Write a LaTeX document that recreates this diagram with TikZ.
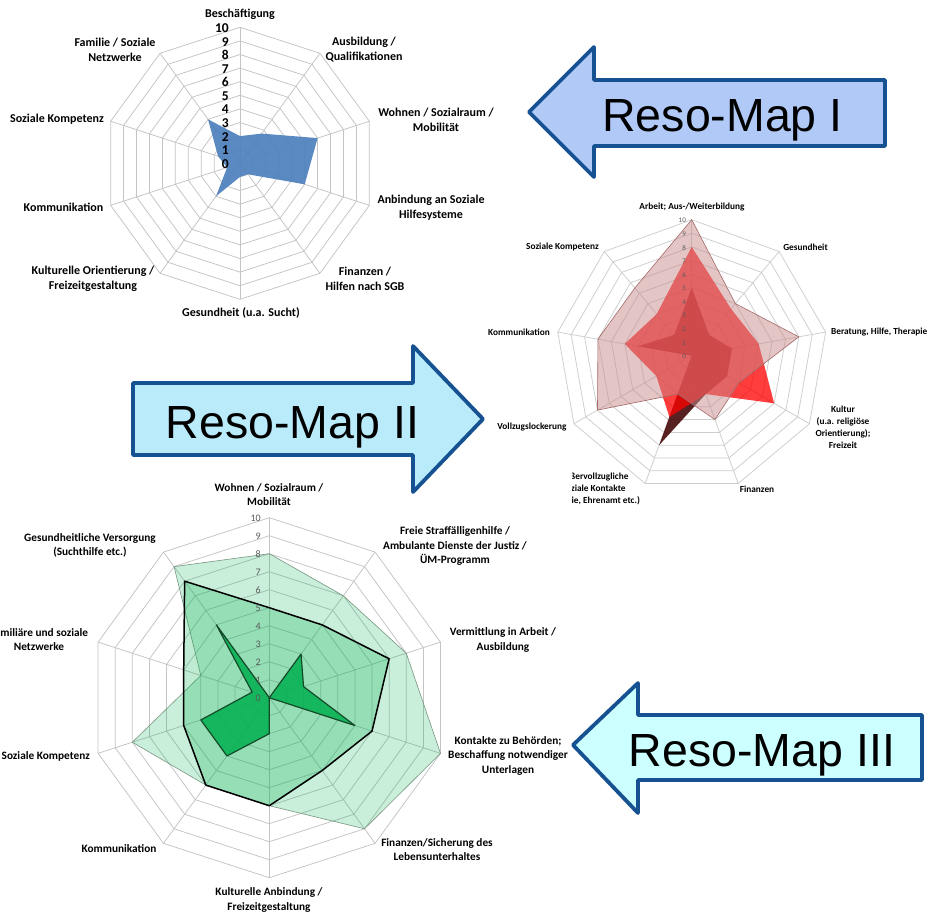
\documentclass[tikz,border=0pt]{standalone}
\usepackage{fontspec}
\setmainfont{Carlito}
\newfontfamily\arialfont{Liberation Sans}
\definecolor{gridgray}{RGB}{196,196,196}
\definecolor{numgray}{RGB}{90,90,90}
\definecolor{xlblue}{RGB}{79,129,189}
\definecolor{arrowedge}{RGB}{22,82,145}
\definecolor{fillI}{RGB}{177,201,247}
\definecolor{fillII}{RGB}{185,235,250}
\definecolor{fillIII}{RGB}{204,255,255}
\definecolor{redA}{RGB}{200,140,140}
\definecolor{redAline}{RGB}{165,105,105}
\definecolor{redC}{RGB}{70,10,10}
\definecolor{xlgreen}{RGB}{0,176,80}
\definecolor{greenline}{RGB}{120,150,130}
\definecolor{greenC}{RGB}{20,75,40}
\begin{document}
\begin{tikzpicture}[x=1pt,y=-1pt,
  gridline/.style={draw=gridgray,line width=0.75pt},
  bigarrow/.style={draw=arrowedge,line width=3.8pt,line join=round},
  arrowtext/.style={font=\arialfont\fontsize{46.5}{50}\selectfont,anchor=base,inner sep=0pt},
  lblI/.style={font=\bfseries\fontsize{12}{15}\selectfont,align=center,inner sep=0pt},
  lblII/.style={font=\bfseries\fontsize{9.3}{12}\selectfont,align=center,inner sep=0pt},
  lblIII/.style={font=\bfseries\fontsize{11.3}{14.5}\selectfont,align=center,inner sep=0pt},
  numI/.style={font=\bfseries\fontsize{13.5}{14}\selectfont,anchor=east,inner sep=0pt},
  numII/.style={font=\fontsize{7}{8}\selectfont,text=numgray,anchor=east,inner sep=0pt},
  numIII/.style={font=\fontsize{10}{11}\selectfont,text=numgray,anchor=east,inner sep=0pt}]
\useasboundingbox (0,0) rectangle (929,914);
\fill[white] (0,0) rectangle (929,914);

% ================= Chart I =================
\begin{scope}[shift={(240,163.3)},scale=13.6]
  \foreach \k in {1,...,10}
    \draw[gridline] (-90:\k) -- (-54:\k) -- (-18:\k) -- (18:\k) -- (54:\k) -- (90:\k) -- (126:\k) -- (162:\k) -- (198:\k) -- (234:\k) -- cycle;
  \foreach \a in {-90,-54,-18,18,54,90,126,162,198,234}
    \draw[gridline] (0,0) -- (\a:10);
  \fill[xlblue,opacity=0.93] (-90:2) -- (-54:2.7) -- (-18:6) -- (18:5) -- (54:1) -- (90:1) -- (126:3) -- (162:1) -- (198:1.7) -- (234:4) -- cycle;
\end{scope}
\foreach \k in {0,...,10}
  \node[numI] (nI\k) at (229,{164-13.6*\k}) {\k};
\node[lblI] (besch) at (240,14) {Beschäftigung};
\node[lblI] (ausb) at (364,49.5) {Ausbildung /\\Qualifikationen};
\node[lblI] (wohn) at (436,119.5) {Wohnen / Sozialraum /\\Mobilität};
\node[lblI] (anb) at (431,207.5) {Anbindung an Soziale\\Hilfesysteme};
\node[lblI] (finI) at (365,278.5) {Finanzen /\\Hilfen nach SGB};
\node[lblI] (gesI) at (241,313) {Gesundheit (u.a. Sucht)};
\node[lblI] (kultI) at (93,278.5) {Kulturelle Orientierung /\\Freizeitgestaltung};
\node[lblI] (kommI) at (63.5,207) {Kommunikation};
\node[lblI] (sozI) at (57,119) {Soziale Kompetenz};
\node[lblI] (famI) at (115,49.5) {Familie / Soziale\\Netzwerke};

% ================= Chart II =================
\begin{scope}[shift={(691.7,355.7)},scale=13.6]
  \foreach \k in {1,...,10}
    \draw[gridline,draw=gridgray!85] (-90:\k) -- (-50:\k) -- (-10:\k) -- (30:\k) -- (70:\k) -- (110:\k) -- (150:\k) -- (190:\k) -- (230:\k) -- cycle;
  \foreach \a in {-90,-50,-10,30,70,110,150,190,230}
    \draw[gridline,draw=gridgray!85] (0,0) -- (\a:10);
  \fill[redC,opacity=0.9] (-90:5) -- (-50:2) -- (-10:3) -- (30:3) -- (70:3) -- (110:7) -- (150:0) -- (190:4) -- (230:2) -- cycle;
  \fill[red,opacity=0.76] (-90:8) -- (-50:4.5) -- (-10:5) -- (30:7) -- (70:3) -- (110:4.8) -- (150:3) -- (190:5) -- (230:4) -- cycle;
  \fill[redA,opacity=0.5] (-90:10) -- (-50:5) -- (-10:8) -- (30:4) -- (70:5) -- (110:3) -- (150:8) -- (190:7) -- (230:6.5) -- cycle;
  \draw[redAline,line width=0.6pt] (-90:10) -- (-50:5) -- (-10:8) -- (30:4) -- (70:5) -- (110:3) -- (150:8) -- (190:7) -- (230:6.5) -- cycle;
\end{scope}
\foreach \k in {0,...,10}
  \node[numII] (nII\k) at (686,{356.5-13.6*\k}) {\k};
\node[lblII] (arb) at (692,207) {Arbeit; Aus-/Weiterbildung};
\node[lblII] (gesII) at (805.5,247) {Gesundheit};
\node[lblII,anchor=west] (ber) at (831,332) {Beratung, Hilfe, Therapie};
\node[lblII] (kulII) at (843,427) {Kultur\\(u.a. religiöse\\Orientierung);\\Freizeit};
\node[lblII] (finII) at (757,489) {Finanzen};
\begin{scope}
  \clip (572,455) rectangle (700,520);
  \node[lblII] (auss) at (594,489) {Außervollzugliche\\soziale Kontakte\\(Familie, Ehrenamt etc.)};
\end{scope}
\node[lblII] (voll) at (532,427) {Vollzugslockerung};
\node[lblII] (kommII) at (519,332) {Kommunikation};
\node[lblII] (sozII) at (562.5,247) {Soziale Kompetenz};

% ================= Chart III =================
\begin{scope}[shift={(269.3,697.7)},scale=18]
  \foreach \k in {1,...,10}
    \draw[gridline] (-90:\k) -- (-54:\k) -- (-18:\k) -- (18:\k) -- (54:\k) -- (90:\k) -- (126:\k) -- (162:\k) -- (198:\k) -- (234:\k) -- cycle;
  \foreach \a in {-90,-54,-18,18,54,90,126,162,198,234}
    \draw[gridline] (0,0) -- (\a:10);
  \fill[xlgreen,opacity=0.21] (-90:8) -- (-54:7) -- (-18:8) -- (18:10) -- (54:9) -- (90:6) -- (126:6) -- (162:8) -- (198:4) -- (234:9) -- cycle;
  \draw[greenline,line width=0.6pt] (-90:8) -- (-54:7) -- (-18:8) -- (18:10) -- (54:9) -- (90:6) -- (126:6) -- (162:8) -- (198:4) -- (234:9) -- cycle;
  \fill[xlgreen,opacity=0.25] (-90:5) -- (-54:5) -- (-18:7) -- (18:6) -- (54:5) -- (90:6) -- (126:6) -- (162:5) -- (198:5) -- (234:8) -- cycle;
  \draw[black,line width=1.5pt,line join=round] (-90:5) -- (-54:5) -- (-18:7) -- (18:6) -- (54:5) -- (90:6) -- (126:6) -- (162:5) -- (198:5) -- (234:8) -- cycle;
  \fill[xlgreen,opacity=0.85] (-90:0) -- (-54:3) -- (-18:2) -- (18:5) -- (54:0) -- (90:2) -- (126:4) -- (162:4) -- (198:1) -- (234:5) -- cycle;
  \draw[greenC,line width=1.2pt,line join=round] (-90:0) -- (-54:3) -- (-18:2) -- (18:5) -- (54:0) -- (90:2) -- (126:4) -- (162:4) -- (198:1) -- (234:5) -- cycle;
\end{scope}
\foreach \k in {0,...,10}
  \node[numIII] (nIII\k) at (261,{698.5-18*\k}) {\k};
\node[lblIII] (w3) at (269,494.5) {Wohnen / Sozialraum /\\Mobilität};
\node[lblIII] (fr3) at (455,546) {Freie Straffälligenhilfe /\\Ambulante Dienste der Justiz /\\ÜM-Programm};
\node[lblIII] (ve3) at (503,640) {Vermittlung in Arbeit /\\Ausbildung};
\node[lblIII] (ko3) at (508,755.5) {Kontakte zu Behörden;\\Beschaffung notwendiger\\Unterlagen};
\node[lblIII] (fi3) at (437,849.5) {Finanzen/Sicherung des\\Lebensunterhaltes};
\node[lblIII] (ku3) at (269,900) {Kulturelle Anbindung /\\Freizeitgestaltung};
\node[lblIII] (km3) at (119,849) {Kommunikation};
\node[lblIII,anchor=east] (sk3) at (90,756) {Soziale Kompetenz};
\node[lblIII] (fa3) at (39,639.5) {Familiäre und soziale\\Netzwerke};
\node[lblIII] (gv3) at (90,545.5) {Gesundheitliche Versorgung\\(Suchthilfe etc.)};

% ================= Arrows =================
\draw[bigarrow,fill=fillI] (529,112) -- (594,47) -- (594,80) -- (885,80) -- (885,146) -- (594,146) -- (594,177) -- cycle;
\node[arrowtext] (tI) at (722.5,131.5) {Reso-Map I};
\draw[bigarrow,fill=fillII] (483,419) -- (413,346) -- (413,383) -- (133,383) -- (133,455) -- (413,455) -- (413,492) -- cycle;
\node[arrowtext] (tII) at (292.5,438) {Reso-Map II};
\draw[bigarrow,fill=fillIII] (573,745) -- (638,683) -- (638,715) -- (922,715) -- (922,780) -- (638,780) -- (638,813) -- cycle;
\node[arrowtext] (tIII) at (762,766) {Reso-Map III};
\end{tikzpicture}
\end{document}
